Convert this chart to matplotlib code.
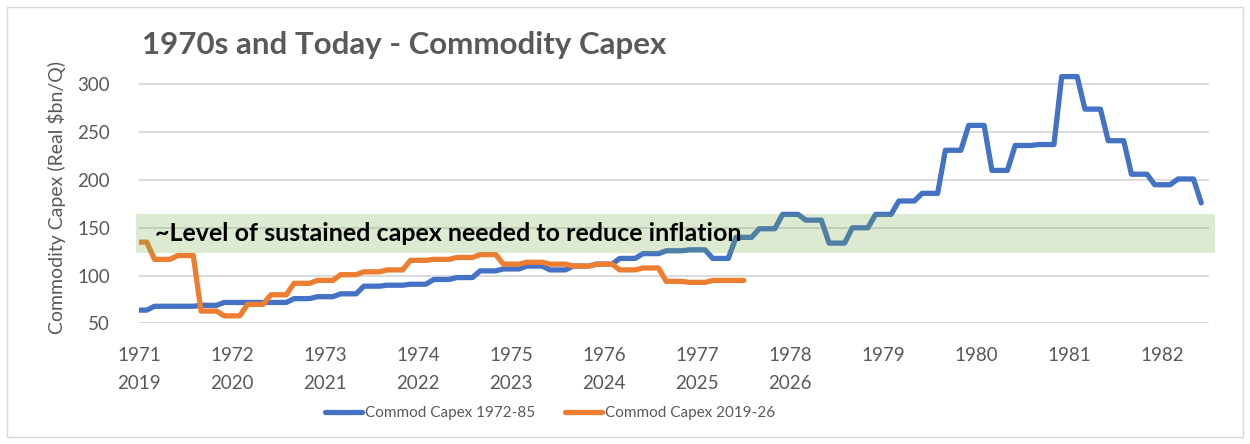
import numpy as np
import matplotlib
matplotlib.use('Agg')
import matplotlib.pyplot as plt
from matplotlib.patches import Rectangle

# Monthly series (quarterly values held for each month)
blue_values = [
    64, 64,
    68, 68, 68, 68, 68, 68, 69, 69, 69,
    72, 72, 72, 72, 72, 72, 72, 72, 72, 76, 76, 76,
    78, 78, 78, 81, 81, 81, 89, 89, 89, 90, 90, 90,
    91, 91, 91, 96, 96, 96, 98, 98, 98, 105, 105, 105,
    107, 107, 107, 110, 110, 110, 106, 106, 106, 110, 110, 110,
    112, 112, 112, 118, 118, 118, 123, 123, 123, 126, 126, 126,
    127, 127, 127, 118, 118, 118, 140, 140, 140, 149, 149, 149,
    164, 164, 164, 158, 158, 158, 134, 134, 134, 150, 150, 150,
    164, 164, 164, 178, 178, 178, 186, 186, 186, 231, 231, 231,
    257, 257, 257, 210, 210, 210, 236, 236, 236, 237, 237, 237,
    308, 308, 308, 274, 274, 274, 241, 241, 241, 206, 206, 206,
    195, 195, 195, 201, 201, 201,
    176,
]
orange_values = [
    135, 135,
    117, 117, 117, 121, 121, 121, 63, 63, 63,
    58, 58, 58, 70, 70, 70, 80, 80, 80, 92, 92, 92,
    95, 95, 95, 101, 101, 101, 104, 104, 104, 106, 106, 106,
    116, 116, 116, 117, 117, 117, 119, 119, 119, 122, 122, 122,
    112, 112, 112, 114, 114, 114, 112, 112, 112, 110, 110, 110,
    112, 112, 112, 106, 106, 106, 108, 108, 108, 94, 94, 94,
    93, 93, 93, 95, 95, 95,
    95, 95,
]
labels_1970s = ['1971', '1972', '1973', '1974', '1975', '1976', '1977',
                '1978', '1979', '1980', '1981', '1982']
labels_today = ['2019', '2020', '2021', '2022', '2023', '2024', '2025', '2026']
series_names = ['Commod Capex 1972-85', 'Commod Capex 2019-26']
yticks = [50, 100, 150, 200, 250, 300]
band_low, band_high = 124, 164
band_text = '~Level of sustained capex needed to reduce inflation'
title = '1970s and Today - Commodity Capex'
ylabel = r'Commodity Capex (Real \$bn/Q)'

plt.rcParams['font.family'] = ['Lato', 'DejaVu Sans']

W, H = 1250, 444
fig = plt.figure(figsize=(W / 100, H / 100), dpi=100)
ax = fig.add_axes([139 / W, 0.2714, 1070 / W, 0.8426 - 0.2714])

blue_c = '#4472C4'
orange_c = '#ED7D31'
gray_text = '#595959'

ax.plot(np.arange(len(blue_values)), blue_values, color=blue_c, lw=3.8,
        solid_joinstyle='round', solid_capstyle='round',
        label=series_names[0], zorder=3)
ax.plot(np.arange(len(orange_values)), orange_values, color=orange_c, lw=3.8,
        solid_joinstyle='round', solid_capstyle='round',
        label=series_names[1], zorder=3)

ax.axhspan(band_low, band_high, xmin=-0.003, xmax=1.0056, color='#70AD47',
           alpha=0.25, lw=0, zorder=4, clip_on=False)
ax.text(0.015, 144, band_text, transform=ax.get_yaxis_transform(),
        fontweight='bold', fontsize=18, color='black', va='center',
        ha='left', zorder=5)

ticks = list(range(0, 12 * len(labels_1970s), 12))
tick_labels = []
for i, y in enumerate(labels_1970s):
    if i < len(labels_today):
        tick_labels.append(y + '\n' + labels_today[i])
    else:
        tick_labels.append(y)
ax.set_xticks(ticks)
ax.set_xticklabels(tick_labels, linespacing=1.75, va='top')
ax.set_xlim(0, 138)
ax.set_ylim(50, 315)
ax.set_yticks(yticks)
ax.grid(axis='y', color='#D9D9D9', lw=1.3, zorder=0)
ax.grid(axis='x', visible=False)
ax.set_axisbelow(True)
for s in ax.spines.values():
    s.set_visible(False)
ax.tick_params(axis='both', length=0, colors=gray_text, labelsize=13.5)
ax.tick_params(axis='y', pad=21)
ax.tick_params(axis='x', pad=17)

fig.text(56 / W, (H - 197) / H, ylabel, rotation=90, fontsize=14,
         color=gray_text, ha='center', va='center')
fig.text(142 / W, (H - 45) / H, title, fontsize=22.5, fontweight='bold',
         color=gray_text, ha='left', va='center')

fig.legend(loc='center', bbox_to_anchor=(550 / W, (H - 413) / H), ncol=2,
           frameon=False, fontsize=11, handlelength=2.4, handletextpad=0.2,
           columnspacing=2.0, labelcolor=gray_text)

fig.add_artist(Rectangle((7 / W, 7 / H), (1243 - 7) / W, (437 - 7) / H,
                         transform=fig.transFigure, fill=False,
                         edgecolor='#D9D9D9', lw=1))

fig.savefig('out.png', dpi=100)
